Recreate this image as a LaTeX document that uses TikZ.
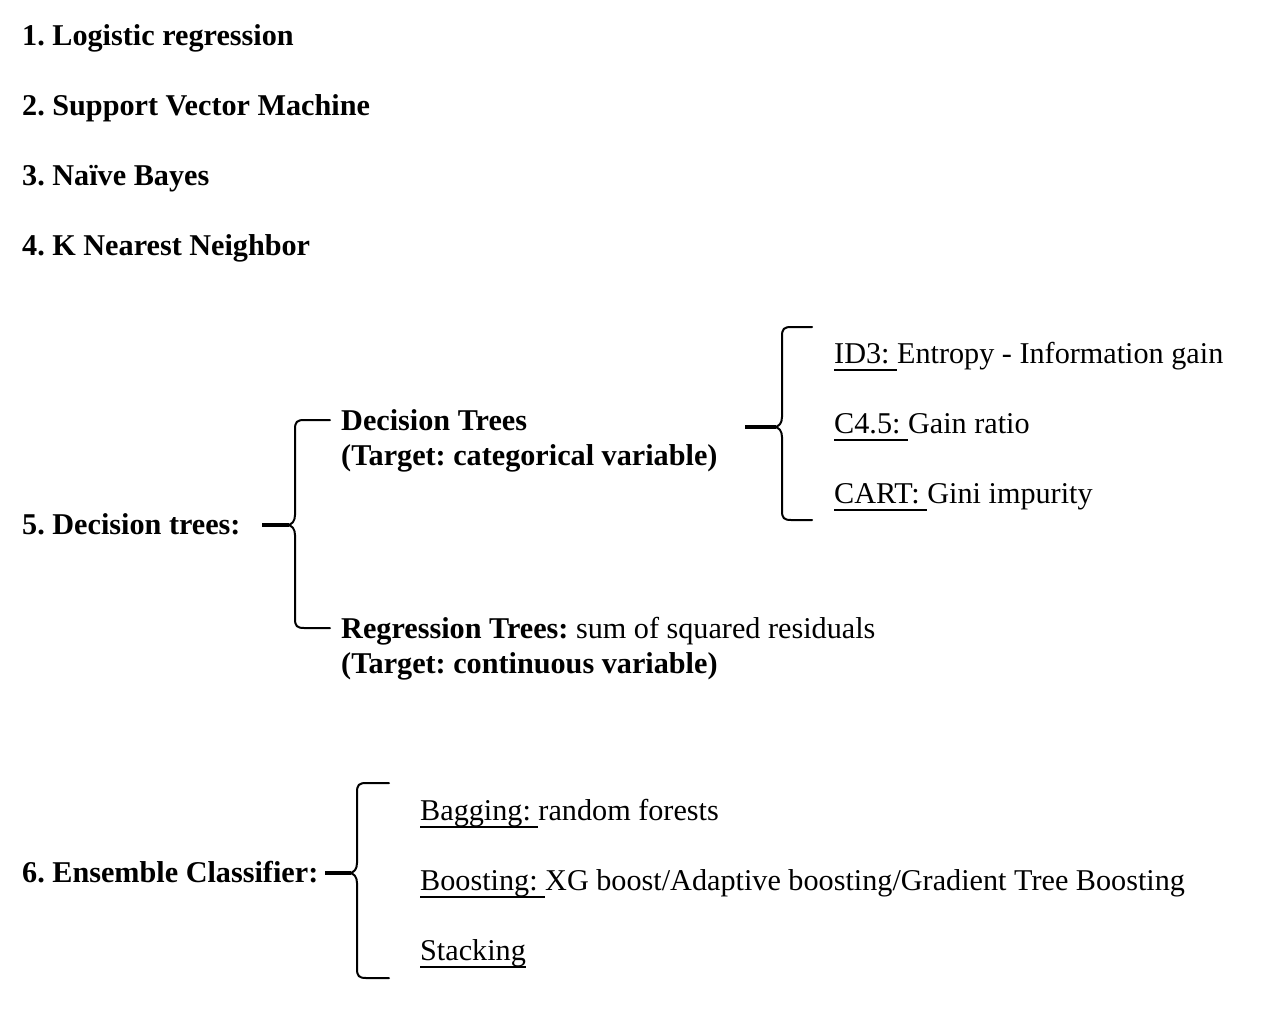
\documentclass[tikz,border=0pt]{standalone}
\usepackage{fontspec}
\setmainfont{Liberation Serif}
\frenchspacing
\newcommand\ulx[1]{\setbox0\hbox{#1}\rlap{\rule[-7.5pt]{\wd0}{1.8pt}}\box0}
\newcommand\drawbrace[6]{%
  % #1 stub start x, #2 vertical x, #3 top y, #4 mid y, #5 bottom y, #6 end x
  \draw[bracestroke] ({#6},{#3}) -- ({#2+9},{#3})
    .. controls ({#2+2},{#3}) and ({#2},{#3+2}) .. ({#2},{#3+9})
    -- ({#2},{#4-10})
    .. controls ({#2},{#4-4}) and ({#2-3},{#4}) .. ({#2-8},{#4})
    .. controls ({#2-3},{#4}) and ({#2},{#4+4}) .. ({#2},{#4+10})
    -- ({#2},{#5-9})
    .. controls ({#2},{#5-2}) and ({#2+2},{#5}) .. ({#2+9},{#5})
    -- ({#6},{#5});
  \draw[stubstroke] ({#1},{#4}) -- ({#2-6},{#4});
}
\tikzset{
  txt/.style={anchor=base west, inner sep=0pt, font=\fontsize{30.2}{35}\selectfont},
  bold/.style={txt, font=\fontsize{30.2}{35}\selectfont\bfseries},
  bracestroke/.style={line width=2pt, line cap=round, line join=round},
  stubstroke/.style={line width=3.2pt},
}
\begin{document}
\begin{tikzpicture}[x=1pt, y=-1pt]
\useasboundingbox[fill=white] (0,0) rectangle (1262,1012);
\node[bold] (l1) at (22,45) {1. Logistic regression};
\node[bold] (l2) at (22,115) {2. Support Vector Machine};
\node[bold] (l3) at (22,185) {3. Naïve Bayes};
\node[bold] (l4) at (22,255) {4. K Nearest Neighbor};
\node[bold] (l5) at (22,534) {5. Decision trees:};
\node[bold] (dt1) at (341,430) {Decision Trees};
\node[bold] (dt2) at (341,465) {(Target: categorical variable)};
\node[txt] (id3) at (834,363) {\ulx{ID3: }Entropy - Information gain};
\node[txt] (c45) at (834,433) {\ulx{C4.5: }Gain ratio};
\node[txt] (cart) at (834,503) {\ulx{CART: }Gini impurity};
\node[txt] (rt1) at (341,638) {\textbf{Regression Trees:} sum of squared residuals};
\node[bold] (rt2) at (341,673) {(Target: continuous variable)};
\node[bold] (l6) at (22,882) {6. Ensemble Classifier:};
\node[txt] (bag) at (420,820) {\ulx{Bagging: }random forests};
\node[txt] (boo) at (420,890) {\ulx{Boosting: }XG boost/Adaptive boosting/Gradient Tree Boosting};
\node[txt] (sta) at (420,960) {\ulx{Stacking}};
\drawbrace{262}{295}{420}{525}{628}{330}
\drawbrace{745}{782}{327}{427}{520}{812}
\drawbrace{325}{357}{783}{873}{978}{389}
\end{tikzpicture}
\end{document}
